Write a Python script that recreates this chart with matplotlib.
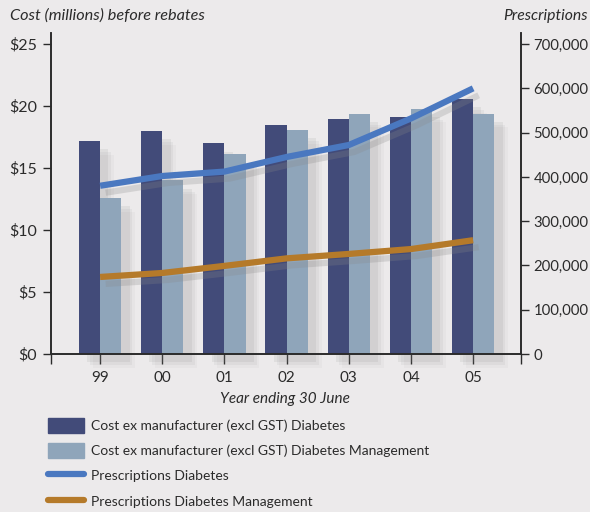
import numpy as np
import matplotlib.pyplot as plt
import matplotlib.patheffects as pe
from matplotlib.patches import Patch
from matplotlib.lines import Line2D

plt.rcParams['font.family'] = ['Lato', 'DejaVu Sans']

years = ['99', '00', '01', '02', '03', '04', '05']
cost_diabetes = [17.2, 18.0, 17.0, 18.5, 19.0, 19.1, 20.6]
cost_management = [12.6, 14.0, 16.1, 18.1, 19.4, 19.8, 19.4]
rx_diabetes = [380000, 402000, 412000, 445000, 472000, 532000, 600000]
rx_management = [174000, 183000, 199000, 216000, 226000, 237000, 257000]

bg = '#ECEAEB'
dark = '#424B79'
light = '#8FA5BA'
blue = '#4A78C0'
brown = '#B57A2A'
ink = '#2b2b2b'

fig = plt.figure(figsize=(5.9, 5.12), dpi=100, facecolor=bg)
ax = fig.add_axes([51/590, 1 - 354/512, 470/590, 321/512])
ax.set_facecolor(bg)

x = np.arange(len(years))
w = 0.34
shadow = [pe.SimplePatchShadow(offset=(o, -o), shadow_rgbFace='#888888', alpha=a)
          for o, a in [(10, 0.06), (8, 0.09), (6, 0.12)]] + [pe.Normal()]
ax.bar(x, cost_diabetes, width=-w, align='edge', color=dark, zorder=2,
       path_effects=shadow, clip_on=False)
ax.bar(x, cost_management, width=w, align='edge', color=light, zorder=2,
       path_effects=shadow, clip_on=False)

ax2 = ax.twinx()
line_shadow = [pe.SimpleLineShadow(offset=(4, -5), shadow_color='#888888', alpha=0.25), pe.Normal()]
ax2.plot(x, rx_diabetes, color=blue, lw=4.5, solid_capstyle='butt', zorder=3,
         path_effects=line_shadow)
ax2.plot(x, rx_management, color=brown, lw=4.5, solid_capstyle='butt', zorder=3,
         path_effects=line_shadow)

ax.set_xlim(-0.79, 6.77)
ax.set_ylim(0, 25.9)
ax2.set_ylim(0, 725000)

ax.set_xticks(x)
ax.set_xticklabels(years)
ax.set_xticks([-0.79, 6.77], minor=True)
ax.tick_params(axis='x', which='both', direction='out', length=7, width=1, colors=ink,
               labelsize=11, pad=5)
ax.set_yticks([0, 5, 10, 15, 20, 25])
ax.set_yticklabels(['$0', '$5', '$10', '$15', '$20', '$25'])
ax.tick_params(axis='y', direction='out', length=6, width=1, colors=ink, labelsize=11.5, pad=4)

ax2.set_yticks(range(0, 700001, 100000))
ax2.set_yticklabels(['0'] + [f'{v:,}' for v in range(100000, 700001, 100000)])
ax2.tick_params(axis='y', direction='out', length=6, width=1, colors=ink, labelsize=10.7, pad=3)

for a in (ax, ax2):
    a.spines['top'].set_visible(False)
    for s in ('left', 'right', 'bottom'):
        a.spines[s].set_color(ink)
        a.spines[s].set_linewidth(1.2)

fig.text(10/590, 1 - 16/512, 'Cost (millions) before rebates', style='italic',
         fontsize=11.7, color=ink, va='center', ha='left')
fig.text(588/590, 1 - 16/512, 'Prescriptions', style='italic',
         fontsize=11.3, color=ink, va='center', ha='right')
fig.text(285/590, 1 - 399/512, 'Year ending 30 June', style='italic',
         fontsize=11, color=ink, va='center', ha='center')

handles = [Patch(color=dark), Patch(color=light),
           Line2D([], [], color=blue, lw=4.5, solid_capstyle='round'),
           Line2D([], [], color=brown, lw=4.5, solid_capstyle='round')]
labels = ['Cost ex manufacturer (excl GST) Diabetes',
          'Cost ex manufacturer (excl GST) Diabetes Management',
          'Prescriptions Diabetes',
          'Prescriptions Diabetes Management']
fig.legend(handles, labels, loc='upper left', bbox_to_anchor=(48/590, 1 - 418/512),
           frameon=False, fontsize=10, handlelength=2.6, handleheight=1.3,
           labelspacing=0.72, handletextpad=0.5, borderaxespad=0, borderpad=0,
           labelcolor=ink)

fig.savefig('out.png', dpi=100, facecolor=bg)
